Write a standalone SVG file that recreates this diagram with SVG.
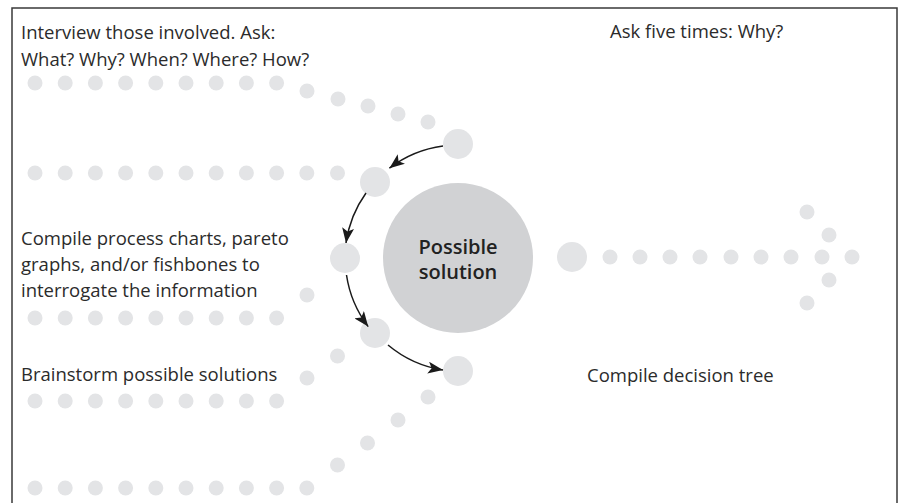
<svg xmlns="http://www.w3.org/2000/svg" width="906" height="503" viewBox="0 0 906 503">
<style>
.t{font-family:"Open Sans","Liberation Sans",sans-serif;font-size:18.5px;fill:#2b2b2b}
.b{font-family:"Open Sans","Liberation Sans",sans-serif;font-size:20px;font-weight:600;fill:#222;text-anchor:middle}
.d{fill:#e3e4e6}
.frame{fill:none;stroke:#3a3a3a;stroke-width:1.5}
.arr{fill:none;stroke:#1a1a1a;stroke-width:1.5;marker-end:url(#ah)}
</style>
<defs>
<marker id="ah" markerWidth="16" markerHeight="12" refX="15" refY="6" orient="auto" markerUnits="userSpaceOnUse">
<path d="M0,0 L15,6 L0,12 L3.5,6 Z" fill="#1a1a1a"/>
</marker>
</defs>
<rect width="906" height="503" fill="#fff"/>
<path class="frame" d="M12,503 V8 H897 V503"/>

<g id="dots">
<g id="row1">
<circle class="d" cx="35" cy="83" r="7.5"/><circle class="d" cx="65.2" cy="83" r="7.5"/><circle class="d" cx="95.4" cy="83" r="7.5"/><circle class="d" cx="125.6" cy="83" r="7.5"/><circle class="d" cx="155.8" cy="83" r="7.5"/><circle class="d" cx="186" cy="83" r="7.5"/><circle class="d" cx="216.2" cy="83" r="7.5"/><circle class="d" cx="246.4" cy="83" r="7.5"/><circle class="d" cx="276.6" cy="83" r="7.5"/>
<circle class="d" cx="307" cy="91" r="7.5"/><circle class="d" cx="338" cy="99" r="7.5"/><circle class="d" cx="368" cy="106" r="7.5"/><circle class="d" cx="398" cy="114" r="7.5"/><circle class="d" cx="428" cy="122" r="7.5"/>
</g>
<g id="row2">
<circle class="d" cx="35" cy="173" r="7.5"/><circle class="d" cx="65.2" cy="173" r="7.5"/><circle class="d" cx="95.4" cy="173" r="7.5"/><circle class="d" cx="125.6" cy="173" r="7.5"/><circle class="d" cx="155.8" cy="173" r="7.5"/><circle class="d" cx="186" cy="173" r="7.5"/><circle class="d" cx="216.2" cy="173" r="7.5"/><circle class="d" cx="246.4" cy="173" r="7.5"/><circle class="d" cx="276.6" cy="173" r="7.5"/><circle class="d" cx="306.8" cy="173" r="7.5"/><circle class="d" cx="337.5" cy="173" r="7.5"/>
</g>
<g id="row3">
<circle class="d" cx="35" cy="318" r="7.5"/><circle class="d" cx="65.2" cy="318" r="7.5"/><circle class="d" cx="95.4" cy="318" r="7.5"/><circle class="d" cx="125.6" cy="318" r="7.5"/><circle class="d" cx="155.8" cy="318" r="7.5"/><circle class="d" cx="186" cy="318" r="7.5"/><circle class="d" cx="216.2" cy="318" r="7.5"/><circle class="d" cx="246.4" cy="318" r="7.5"/><circle class="d" cx="276.6" cy="318" r="7.5"/>
<circle class="d" cx="307" cy="295" r="7.5"/>
</g>
<g id="row4">
<circle class="d" cx="35" cy="401" r="7.5"/><circle class="d" cx="65.2" cy="401" r="7.5"/><circle class="d" cx="95.4" cy="401" r="7.5"/><circle class="d" cx="125.6" cy="401" r="7.5"/><circle class="d" cx="155.8" cy="401" r="7.5"/><circle class="d" cx="186" cy="401" r="7.5"/><circle class="d" cx="216.2" cy="401" r="7.5"/><circle class="d" cx="246.4" cy="401" r="7.5"/><circle class="d" cx="276.6" cy="401" r="7.5"/>
<circle class="d" cx="307" cy="378" r="7.5"/><circle class="d" cx="337.5" cy="356" r="7.5"/>
</g>
<g id="row5">
<circle class="d" cx="35" cy="488" r="7.5"/><circle class="d" cx="65.2" cy="488" r="7.5"/><circle class="d" cx="95.4" cy="488" r="7.5"/><circle class="d" cx="125.6" cy="488" r="7.5"/><circle class="d" cx="155.8" cy="488" r="7.5"/><circle class="d" cx="186" cy="488" r="7.5"/><circle class="d" cx="216.2" cy="488" r="7.5"/><circle class="d" cx="246.4" cy="488" r="7.5"/><circle class="d" cx="276.6" cy="488" r="7.5"/><circle class="d" cx="306.8" cy="488" r="7.5"/>
<circle class="d" cx="337.5" cy="465" r="7.5"/><circle class="d" cx="367.5" cy="443" r="7.5"/><circle class="d" cx="398" cy="420" r="7.5"/><circle class="d" cx="428" cy="397" r="7.5"/>
</g>
<g id="right-arrow">
<circle class="d" cx="610" cy="257" r="7.5"/><circle class="d" cx="640" cy="257" r="7.5"/><circle class="d" cx="670" cy="257" r="7.5"/><circle class="d" cx="700" cy="257" r="7.5"/><circle class="d" cx="731" cy="257" r="7.5"/><circle class="d" cx="761" cy="257" r="7.5"/><circle class="d" cx="791" cy="257" r="7.5"/><circle class="d" cx="822" cy="257" r="7.5"/><circle class="d" cx="852" cy="257" r="7.5"/>
<circle class="d" cx="807" cy="212" r="7.5"/><circle class="d" cx="829" cy="235" r="7.5"/><circle class="d" cx="829" cy="280" r="7.5"/><circle class="d" cx="807" cy="303" r="7.5"/>
</g>
</g>

<g id="step1"><circle class="d" cx="458" cy="144" r="15"/></g>
<g id="step2"><circle class="d" cx="375" cy="182" r="15"/></g>
<g id="step3"><circle class="d" cx="345" cy="258" r="15"/></g>
<g id="step4"><circle class="d" cx="375" cy="333" r="15"/></g>
<g id="step5"><circle class="d" cx="458" cy="371" r="15"/></g>
<g id="step6"><circle class="d" cx="572" cy="257" r="15"/></g>

<g id="solution">
<circle cx="458" cy="258" r="75" fill="#d1d2d4"/>
<text class="b" x="458" y="254">Possible</text>
<text class="b" x="458" y="279">solution</text>
</g>

<g id="connectors">
<path class="arr" d="M443,146 A113,113 0 0 0 389.4,168.2"/>
<path class="arr" d="M366,193 A113,113 0 0 0 346,243"/>
<path class="arr" d="M346.5,275 A113,113 0 0 0 368.2,326.6"/>
<path class="arr" d="M388,345 A113,113 0 0 0 443,370"/>
</g>

<g id="labels">
<text class="t" x="21" y="39">Interview those involved. Ask:</text>
<text class="t" x="21" y="66">What? Why? When? Where? How?</text>
<text class="t" x="610" y="38">Ask five times: Why?</text>
<text class="t" x="21" y="245">Compile process charts, pareto</text>
<text class="t" x="21" y="271">graphs, and/or fishbones to</text>
<text class="t" x="21" y="297">interrogate the information</text>
<text class="t" x="21" y="381">Brainstorm possible solutions</text>
<text class="t" x="587" y="382">Compile decision tree</text>
</g>
</svg>
